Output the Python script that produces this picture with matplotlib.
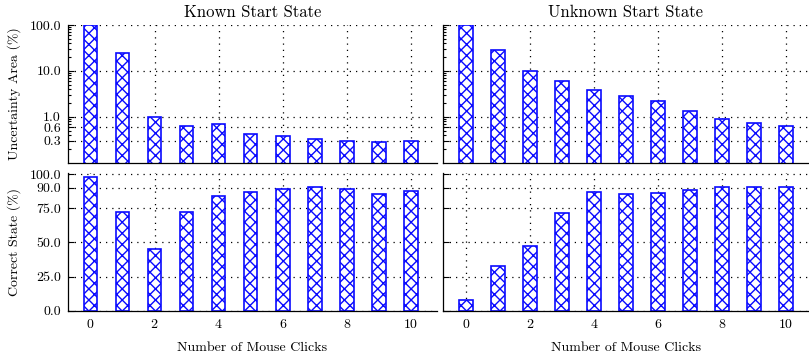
import matplotlib
matplotlib.use("Agg")
import matplotlib.pyplot as plt
from matplotlib.ticker import FixedLocator, FormatStrFormatter, LogLocator, NullFormatter

plt.rcParams["font.family"] = ["cmr10", "DejaVu Serif"]
plt.rcParams["axes.formatter.use_mathtext"] = True
plt.rcParams["mathtext.fontset"] = "cm"
plt.rcParams["hatch.linewidth"] = 1.0

clicks = [0, 1, 2, 3, 4, 5, 6, 7, 8, 9, 10]
panel_titles = ["Known Start State", "Unknown Start State"]

area_known = [100.0, 24.0, 1.0, 0.63, 0.68, 0.42, 0.38, 0.33, 0.30, 0.28, 0.29]
area_unknown = [100.0, 27.9, 10.2, 5.96, 3.93, 2.9, 2.26, 1.32, 0.89, 0.72, 0.62]

correct_known = [97.6, 72.0, 44.9, 72.2, 83.9, 86.8, 89.0, 90.3, 89.0, 85.4, 87.6]
correct_unknown = [7.6, 32.7, 47.3, 71.2, 86.8, 85.1, 85.9, 88.3, 90.7, 90.2, 90.5]

area_ticks = [0.3, 0.6, 1.0, 10.0, 100.0]
correct_ticks = [0.0, 25.0, 50.0, 75.0, 90.0, 100.0]
x_ticks = [0, 2, 4, 6, 8, 10]

W, H = 809, 355
fig = plt.figure(figsize=(W / 100, H / 100), dpi=100)


def px_axes(x0, x1, ytop, ybot):
    return fig.add_axes([x0 / W, (H - ybot) / H, (x1 - x0) / W, (ybot - ytop) / H])


ax_tl = px_axes(68, 437, 25, 162.7)
ax_tr = px_axes(443, 809, 25, 162.7)
ax_bl = px_axes(68, 437, 172.6, 310.7)
ax_br = px_axes(443, 809, 172.6, 310.7)

bar_kw = dict(width=0.42, facecolor="white", edgecolor="#0a0aff", linewidth=1.2,
              hatch="xxx", zorder=3)


def style(ax, xlim, show_ylabels):
    ax.set_axisbelow(True)
    for s in ("top", "right"):
        ax.spines[s].set_visible(False)
    for s in ("left", "bottom"):
        ax.spines[s].set_linewidth(0.9)
        ax.spines[s].set_zorder(4)
    ax.set_xlim(*xlim)
    ax.xaxis.set_major_locator(FixedLocator(x_ticks))
    ax.tick_params(which="both", direction="in", top=False, right=False,
                   labelsize=10, width=0.8, pad=5)
    ax.tick_params(which="major", length=4.5)
    ax.tick_params(which="minor", length=2.5)
    ax.grid(True, which="major", linestyle=(0, (1, 4)), color="black", linewidth=0.9)
    if not show_ylabels:
        ax.tick_params(axis="y", labelleft=False)


# Uncertainty area, log scale
for ax, vals, title, xlim, lab in [
    (ax_tl, area_known, panel_titles[0], (-0.7, 10.81), True),
    (ax_tr, area_unknown, panel_titles[1], (-0.72, 10.72), False),
]:
    ax.bar(clicks, vals, **bar_kw)
    ax.set_yscale("log")
    ax.set_ylim(0.1, 100)
    style(ax, xlim, lab)
    ax.yaxis.set_major_locator(FixedLocator(area_ticks))
    ax.yaxis.set_major_formatter(FormatStrFormatter("%.1f"))
    ax.yaxis.set_minor_locator(LogLocator(base=10, subs=[2, 3, 4, 5, 6, 7, 8, 9]))
    ax.yaxis.set_minor_formatter(NullFormatter())
    ax.tick_params(axis="x", labelbottom=False)
    ax.set_title(title, fontsize=12, pad=6)

# Correct state, linear scale
for ax, vals, xlim, lab in [
    (ax_bl, correct_known, (-0.7, 10.81), True),
    (ax_br, correct_unknown, (-0.72, 10.72), False),
]:
    ax.bar(clicks, vals, **bar_kw)
    ax.set_ylim(0, 101)
    style(ax, xlim, lab)
    ax.yaxis.set_major_locator(FixedLocator(correct_ticks))
    ax.yaxis.set_major_formatter(FormatStrFormatter("%.1f"))
    ax.set_xlabel("Number of Mouse Clicks", fontsize=10, labelpad=8)

ax_tl.set_ylabel("Uncertainty Area (%)", fontsize=10, labelpad=6)
ax_bl.set_ylabel("Correct State (%)", fontsize=10, labelpad=6)

fig.savefig("out.png", dpi=100)
